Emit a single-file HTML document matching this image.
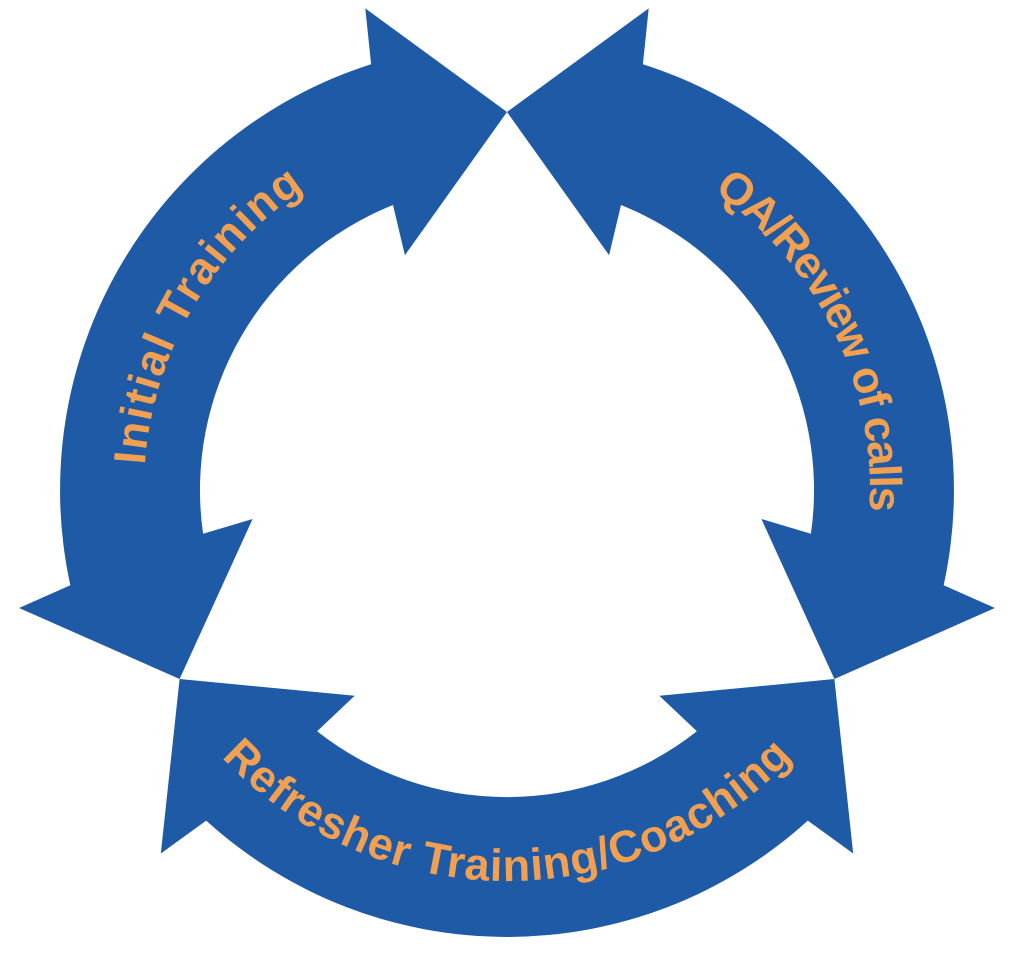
<!DOCTYPE html>
<html><head><meta charset="utf-8"><style>
html,body{margin:0;padding:0;background:#fff;}
svg{display:block;}
text{font-family:"Liberation Sans",sans-serif;font-weight:bold;fill:#F0A050;}
</style></head><body>
<svg id="s" width="1024" height="974" viewBox="0 0 1024 974" xmlns="http://www.w3.org/2000/svg">
<g id="arrows" fill="#1F5AA6"></g>
<defs>
<path id="tl" d="M156.4,584 A363,363 0 0 1 413,139.4"/>
<path id="tr" d="M625.2,146.8 A363,363 0 0 1 850.2,608.2"/>
<path id="tb" d="M168.4,685.5 A391,391 0 0 0 845.6,685.5"/>
</defs>
<text font-size="45" textLength="330" lengthAdjust="spacing"><textPath href="#tl" startOffset="50%" text-anchor="middle">Initial Training</textPath></text>
<text font-size="45" textLength="372" lengthAdjust="spacing"><textPath href="#tr" startOffset="50%" text-anchor="middle">QA/Review of calls</textPath></text>
<text font-size="45" textLength="640" lengthAdjust="spacing"><textPath href="#tb" startOffset="50%" text-anchor="middle">Refresher Training/Coaching</textPath></text>
</svg>
<script>
(function(){
var cx=507,cy=490;
function P(r,a){a=a*Math.PI/180;return (cx+r*Math.cos(a)).toFixed(1)+","+(cy+r*Math.sin(a)).toFixed(1);}
function arrow(A){
 var B=A+120;
 var d="M"+P(447,A+17.7)+" A447,447 0 0 1 "+P(447,B-17.7)+
 " L"+P(502,B-16.4)+" L"+P(378,B)+" L"+P(256,B-23.5)+" L"+P(307,B-21.8)+
 " A307,307 0 0 0 "+P(307,A+21.8)+
 " L"+P(256,A+23.5)+" L"+P(378,A)+" L"+P(502,A+16.4)+" Z";
 var p=document.createElementNS("http://www.w3.org/2000/svg","path");
 p.setAttribute("d",d);
 document.getElementById("arrows").appendChild(p);
}
arrow(30);arrow(150);arrow(270);
})();
</script>
</body></html>
